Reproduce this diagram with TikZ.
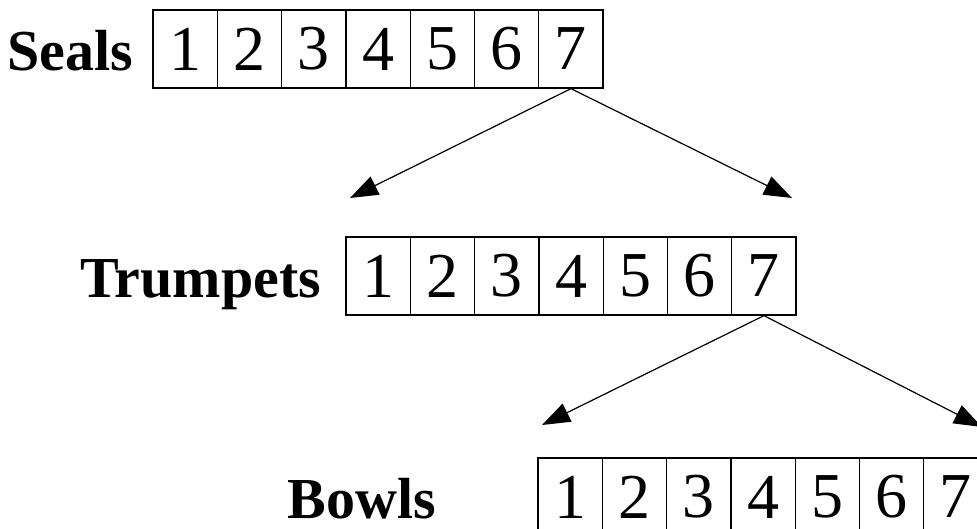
\documentclass[tikz,border=0pt]{standalone}
\usepackage{fontspec}
\setmainfont{Liberation Serif}
\usetikzlibrary{arrows.meta}
\usetikzlibrary{positioning}
\tikzset{cell/.style={draw,
                      line width=1.3pt,
                      minimum width=64.3pt,
                      minimum height=78pt,
                      inner sep=0pt,
                      font=\fontsize{64}{64}\selectfont}}
\tikzset{row label/.style={anchor=base east,
                           inner sep=0pt,
                           font=\fontsize{58}{58}\selectfont\bfseries}}
\tikzset{link/.style={draw,
                      line width=1.2pt,
                      -{Triangle[length=28pt,width=20pt]}}}

\begin{document}
\begin{tikzpicture}[x=1pt,y=-1pt]
      \useasboundingbox (0,0) rectangle (977,529);

      % rows of boxes
      \foreach \r/\lbl/\x/\y/\gap in
      {
      S/Seals/153/49/19,
      T/Trumpets/346/276/24,
      B/Bowls/538/497/101
      }
      {
      \foreach \i [evaluate=\i as \cx using \x+(\i-0.5)*64.3] in {1,...,7}
      {
      \node [cell] (\r\i) at (\cx,\y) {\i};
      }
      \node [row label] (\r) at ([xshift=-\gap pt]\r1.base west) {\lbl};
      }

      % arrow ends
      \coordinate (SL) at (350,198);
      \coordinate (SR) at (792,198);
      \coordinate (TL) at (542,425);
      \coordinate (TR) at (982,427);

      % arrows
      \path [link] (S7.south) -- (SL);
      \path [link] (S7.south) -- (SR);
      \path [link] (T7.south) -- (TL);
      \path [link] (T7.south) -- (TR);

    \end{tikzpicture}
\end{document}
